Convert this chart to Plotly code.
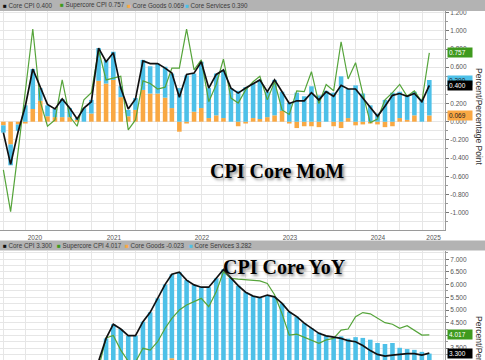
import plotly.graph_objects as go
import pandas as pd
import numpy as np

# ---------------- data (monthly, Mar 2020 .. Jan 2025, plotted at month end) ----------------
months = pd.date_range("2020-03-01", periods=59, freq="MS") + pd.offsets.MonthEnd(0)

# Month-over-month, %
mom_core = [-0.12, -0.47, -0.11, 0.17, 0.58, 0.39, 0.19, 0.14, 0.25, 0.15,
            0.03, 0.15, 0.22, 0.81, 0.66, 0.76, 0.37, 0.14, 0.25, 0.67, 0.64, 0.64,
            0.59, 0.535, 0.27, 0.52, 0.535, 0.66, 0.37, 0.52, 0.57, 0.37, 0.315, 0.37,
            0.42, 0.46, 0.33, 0.46, 0.33, 0.20, 0.23, 0.23, 0.32, 0.24, 0.33, 0.28,
            0.40, 0.36, 0.36, 0.26, 0.16, 0.06, 0.17, 0.29, 0.31, 0.28, 0.31, 0.22, 0.400]
mom_super = [-0.53, -0.99, -0.33, 0.35, 1.02, 0.22, -0.05, 0.02, 0.46, 0.06,
             -0.05, 0.24, 0.32, 0.79, 0.46, 0.48, 0.50, -0.09, 0.02, 0.45, 0.42, 0.36,
             0.38, 0.59, 0.59, 1.02, 0.57, 0.68, 0.22, 0.41, 0.69, 0.26, 0.205, 0.35,
             0.44, 0.50, 0.24, 0.44, 0.13, 0.08, 0.34, 0.33, 0.55, 0.20, 0.41, 0.34,
             0.88, 0.47, 0.65, 0.31, -0.01, 0.03, 0.24, 0.32, 0.41, 0.28, 0.34, 0.22, 0.757]
mom_goods = [-0.04, -0.25, -0.03, -0.02, 0.14, 0.23, 0.06, 0.05, 0.05, 0.05,
             0.02, 0.00, 0.09, 0.45, 0.42, 0.46, 0.27, 0.06, 0.13, 0.35, 0.31, 0.31,
             0.265, 0.15, -0.11, -0.02, 0.11, 0.15, 0.04, 0.07, 0.04, 0.00, -0.05, -0.02,
             0.04, 0.03, 0.05, 0.07, 0.12, -0.02, -0.07, -0.05, -0.05, -0.06, 0.00, -0.05,
             -0.07, 0.04, -0.04, -0.03, -0.02, -0.03, -0.06, -0.05, 0.04, 0.02, 0.07, 0.00, 0.069]
mom_services = [-0.08, -0.23, -0.07, 0.18, 0.44, 0.14, 0.12, 0.09, 0.20, 0.10,
                0.02, 0.15, 0.15, 0.36, 0.26, 0.31, 0.12, 0.07, 0.13, 0.33, 0.30, 0.33,
                0.34, 0.38, 0.37, 0.51, 0.42, 0.51, 0.33, 0.46, 0.53, 0.37, 0.34, 0.38,
                0.38, 0.43, 0.28, 0.39, 0.21, 0.21, 0.32, 0.28, 0.39, 0.29, 0.34, 0.32,
                0.50, 0.32, 0.40, 0.31, 0.18, 0.09, 0.24, 0.32, 0.29, 0.27, 0.26, 0.25, 0.390]

# Year-over-year, %
yoy_core = [2.1, 1.4, 1.2, 1.2, 1.6, 1.7, 1.7, 1.6, 1.6, 1.6,
            1.4, 1.3, 1.6, 2.98, 3.88, 4.44, 4.25, 3.99, 3.99, 4.54, 4.91, 5.46,
            6.01, 6.41, 6.49, 6.18, 5.99, 5.90, 5.90, 6.25, 6.60, 6.27, 5.96, 5.70,
            5.55, 5.49, 5.59, 5.52, 5.26, 4.93, 4.74, 4.48, 4.28, 4.08, 3.98, 3.92,
            3.88, 3.79, 3.75, 3.60, 3.40, 3.25, 3.18, 3.22, 3.26, 3.28, 3.28, 3.22, 3.300]
yoy_super = [2.6, 1.2, 0.9, 1.0, 1.5, 1.6, 1.5, 1.4, 1.6, 1.5,
             1.3, 1.4, 1.7, 2.7, 3.9, 4.0, 3.42, 2.98, 2.95, 3.49, 3.42, 3.75,
             4.28, 4.67, 5.00, 5.20, 5.33, 5.46, 5.13, 5.72, 6.51, 6.25, 6.22, 6.20,
             6.18, 6.15, 6.05, 5.60, 4.85, 4.01, 4.05, 3.92, 3.79, 3.69, 3.82, 3.88,
             4.21, 4.25, 4.74, 4.90, 4.85, 4.67, 4.50, 4.44, 4.28, 4.38, 4.19, 4.01, 4.017]
yoy_goods = [-0.15, -0.22, -0.25, -0.15, 0.00, 0.10, 0.15, 0.28, 0.30, 0.35,
             0.33, 0.33, 0.43, 1.10, 1.60, 2.20, 1.95, 1.80, 1.80, 2.10, 2.35, 2.70,
             2.95, 3.10, 2.95, 2.45, 2.15, 1.80, 1.75, 1.80, 1.65, 1.30, 0.95, 0.55,
             0.33, 0.25, 0.38, 0.50, 0.50, 0.33, 0.20, 0.05, 0.00, -0.03, 0.00, 0.05,
             -0.08, -0.08, -0.18, -0.30, -0.43, -0.45, -0.48, -0.48, -0.25, -0.18, -0.15, -0.13, -0.023]
yoy_services = [2.25, 1.62, 1.45, 1.35, 1.60, 1.60, 1.55, 1.32, 1.30, 1.25,
                1.07, 0.97, 1.17, 1.88, 2.28, 2.24, 2.30, 2.19, 2.19, 2.44, 2.56, 2.76,
                3.06, 3.31, 3.54, 3.73, 3.84, 4.10, 4.15, 4.45, 4.95, 4.97, 5.01, 5.15,
                5.22, 5.24, 5.21, 5.02, 4.76, 4.60, 4.54, 4.43, 4.28, 4.11, 3.98, 3.87,
                3.96, 3.87, 3.93, 3.90, 3.83, 3.70, 3.66, 3.70, 3.51, 3.46, 3.43, 3.35, 3.282]

year_labels = ["2020", "2021", "2022", "2023", "2024", "2025"]
top_tick_vals = [1.2, 1.0, 0.8, 0.6, 0.4, 0.2, 0.0, -0.2, -0.4, -0.6, -0.8, -1.0]
bot_tick_vals = [7.0, 6.5, 6.0, 5.5, 5.0, 4.5, 4.0, 3.5]

# ---------------- styling ----------------
W, H = 485, 360
ORANGE = "#F9A843"
BLUE = "#4DC0E8"
GREEN = "#55A43A"
GREEN_TAG = "#3F9A1E"
BLACK = "#111111"
GRID = "#E6E6E6"
AXC = "#555555"
FONT = "Liberation Sans"

X_RANGE = [pd.Timestamp("2020-03-17"), pd.Timestamp("2025-04-06")]
PLOT_R = 445 / W
TOP_DOM = [1 - 230 / H, 1 - 11 / H]
BOT_DOM = [0.0, 1 - 251 / H]
TOP_RANGE = [-1.192, 1.2185]
BOT_RANGE = [3.029, 7.327]
BAR_W = 19 * 86400000

def px2paper_y(py):
    return 1 - py / H

fig = go.Figure()

# top panel bars and lines
fig.add_trace(go.Bar(x=months, y=mom_goods, marker=dict(color=ORANGE, line=dict(width=0)),
                     width=BAR_W, xaxis="x", yaxis="y", showlegend=False, name="Core Goods"))
fig.add_trace(go.Bar(x=months, y=mom_services, marker=dict(color=BLUE, line=dict(width=0)),
                     width=BAR_W, xaxis="x", yaxis="y", showlegend=False, name="Core Services"))
fig.add_trace(go.Scatter(x=months, y=mom_super, mode="lines", line=dict(color=GREEN, width=1.2),
                         xaxis="x", yaxis="y", showlegend=False, name="Supercore CPI"))
fig.add_trace(go.Scatter(x=months, y=mom_core, mode="lines", line=dict(color=BLACK, width=1.7),
                         xaxis="x", yaxis="y", showlegend=False, name="Core CPI"))

# bottom panel
fig.add_trace(go.Bar(x=months, y=yoy_goods, marker=dict(color=ORANGE, line=dict(width=0)),
                     width=BAR_W, xaxis="x2", yaxis="y2", showlegend=False, name="Core Goods"))
fig.add_trace(go.Bar(x=months, y=yoy_services, marker=dict(color=BLUE, line=dict(width=0)),
                     width=BAR_W, xaxis="x2", yaxis="y2", showlegend=False, name="Core Services"))
fig.add_trace(go.Scatter(x=months, y=yoy_super, mode="lines", line=dict(color=GREEN, width=1.2),
                         xaxis="x2", yaxis="y2", showlegend=False, name="Supercore CPI"))
fig.add_trace(go.Scatter(x=months, y=yoy_core, mode="lines", line=dict(color=BLACK, width=1.7),
                         xaxis="x2", yaxis="y2", showlegend=False, name="Core CPI"))

# x tick helpers
year_starts = [pd.Timestamp(f"{y}-01-01") for y in range(2020, 2027)]
label_pos = []
for lab in year_labels:
    s = max(pd.Timestamp(f"{lab}-01-01"), X_RANGE[0])
    e = min(pd.Timestamp(f"{int(lab)+1}-01-01"), X_RANGE[1])
    label_pos.append(s + (e - s) / 2)
quarters = pd.date_range("2020-01-01", "2025-12-31", freq="QS")
boundaries = [d for d in year_starts if X_RANGE[0] < d < X_RANGE[1]]

tickfont = dict(family=FONT, size=6.5, color=AXC)

xcommon = dict(type="date", range=X_RANGE, domain=[0, PLOT_R], showgrid=False, zeroline=False,
               automargin=False,
               tickmode="array", tickvals=label_pos, ticktext=year_labels, ticks="",
               tickfont=tickfont, ticklabelstandoff=1,
               minor=dict(tickmode="array", tickvals=list(quarters), showgrid=True,
                          gridcolor=GRID, gridwidth=1, ticks=""))

top_minor = [round(v, 1) for v in np.arange(-1.1, 1.25, 0.1)]
bot_minor = [round(v, 2) for v in np.arange(3.25, 7.3, 0.25)]

fig.update_layout(
    width=W, height=H, margin=dict(l=0, r=0, t=0, b=0, autoexpand=False),
    paper_bgcolor="white", plot_bgcolor="white",
    barmode="relative", showlegend=False, hovermode=False,
    xaxis=dict(**xcommon, anchor="y", showline=True, linecolor="#9A9A9A", linewidth=1),
    xaxis2=dict(type="date", range=X_RANGE, domain=[0, PLOT_R], anchor="y2", showgrid=False,
                automargin=False,
                zeroline=False, showticklabels=False, ticks="", showline=False,
                minor=dict(tickmode="array", tickvals=list(quarters), showgrid=True,
                           gridcolor=GRID, gridwidth=1, ticks="")),
    xaxis3=dict(type="date", range=X_RANGE, overlaying="x", anchor="y", showgrid=False,
                automargin=False,
                zeroline=False, tickmode="array", tickvals=boundaries,
                ticktext=["" for _ in boundaries], ticks="outside", ticklen=3,
                tickcolor="#9A9A9A", showline=False),
    yaxis=dict(domain=TOP_DOM, range=TOP_RANGE, side="right", anchor="x", automargin=False,
               tickmode="array", tickvals=top_tick_vals,
               ticktext=[f"{v:.3f}" for v in top_tick_vals],
               ticks="outside", ticklen=3, tickcolor="#777", tickfont=tickfont,
               showgrid=True, gridcolor=GRID, zeroline=False,
               showline=True, linecolor="#9A9A9A", linewidth=1,
               minor=dict(tickmode="array", tickvals=top_minor, showgrid=True,
                          gridcolor=GRID, ticks="outside", ticklen=2, tickcolor="#999")),
    yaxis2=dict(domain=BOT_DOM, range=BOT_RANGE, side="right", anchor="x2", automargin=False,
                tickmode="array", tickvals=bot_tick_vals,
                ticktext=[f"{v:.3f}" for v in bot_tick_vals],
                ticks="outside", ticklen=3, tickcolor="#777", tickfont=tickfont,
                showgrid=True, gridcolor=GRID, zeroline=False,
                showline=True, linecolor="#9A9A9A", linewidth=1,
                minor=dict(tickmode="array", tickvals=bot_minor, showgrid=True,
                           gridcolor=GRID, ticks="outside", ticklen=2, tickcolor="#999")),
)

# legend bars (gray strips)
fig.add_shape(type="rect", xref="paper", yref="paper", x0=0, x1=1,
              y0=px2paper_y(11), y1=1, fillcolor="#B3B3B3", line=dict(width=0), layer="above")
fig.add_shape(type="rect", xref="paper", yref="paper", x0=0, x1=1,
              y0=px2paper_y(250.5), y1=px2paper_y(240.5), fillcolor="#B3B3B3",
              line=dict(width=0), layer="above")

def legend_items(vals, py, xs):
    names = ["Core CPI", "Supercore CPI", "Core Goods", "Core Services"]
    cols = [BLACK, GREEN_TAG, ORANGE, BLUE]
    for name, col, v, xp in zip(names, cols, vals, xs):
        fig.add_annotation(x=xp / W, y=px2paper_y(py), xref="paper", yref="paper",
                           xanchor="left", yanchor="middle", showarrow=False, borderpad=0,
                           text=f"<span style='color:{col}'>■</span> {name} {v:.3f}",
                           font=dict(family=FONT, size=6.3, color="#3a3a3a"))

legend_items([mom_core[-1], mom_super[-1], mom_goods[-1], mom_services[-1]], 5.5, [1.5, 59, 126, 184])
legend_items([yoy_core[-1], yoy_super[-1], yoy_goods[-1], yoy_services[-1]], 245.5, [1.5, 56, 124, 188])

# value tags on the right axis
def tag(v, yref, bg, fc, yshift=0):
    fig.add_annotation(x=446.5 / W, xref="paper", y=v, yref=yref, xanchor="left", yanchor="middle",
                       text=f"{v:.3f}", showarrow=False, bgcolor=bg, borderpad=1, width=22,
                       align="left", yshift=yshift,
                       font=dict(family=FONT, size=6.5, color=fc))

tag(mom_super[-1], "y", GREEN_TAG, "white")
tag(mom_services[-1], "y", BLUE, "#222", yshift=6)
tag(mom_core[-1], "y", "black", "white")
tag(mom_goods[-1], "y", ORANGE, "#222")
tag(yoy_super[-1], "y2", GREEN_TAG, "white")
tag(yoy_core[-1], "y2", "black", "white")

# axis titles (reading top to bottom)
fig.add_annotation(x=479 / W, y=px2paper_y(117), xref="paper", yref="paper", showarrow=False,
                   xanchor="center", yanchor="middle",
                   text="Percent/Percentage Point", textangle=90,
                   font=dict(family=FONT, size=8.5, color="#333"))
fig.add_annotation(x=479 / W, y=px2paper_y(314), xref="paper", yref="paper", showarrow=False,
                   xanchor="center", yanchor="top", text="Percent/Percentage Point", textangle=90,
                   font=dict(family=FONT, size=8.5, color="#333"))

# chart titles
title_font = dict(family="Liberation Serif", size=20, color="black", weight="bold",
                  shadow="2px 2px 3px #8a8a8a")
fig.add_annotation(x=346 / W, y=px2paper_y(171), xref="paper", yref="paper", showarrow=False,
                   text="CPI Core MoM", font=title_font)
fig.add_annotation(x=348 / W, y=px2paper_y(280), xref="paper", yref="paper", showarrow=False,
                   text="CPI Core YoY", font=title_font)

fig.write_html("out.html", config={"displayModeBar": False, "staticPlot": True},
               post_script="document.body.style.margin='0';document.body.style.overflow='hidden';")
